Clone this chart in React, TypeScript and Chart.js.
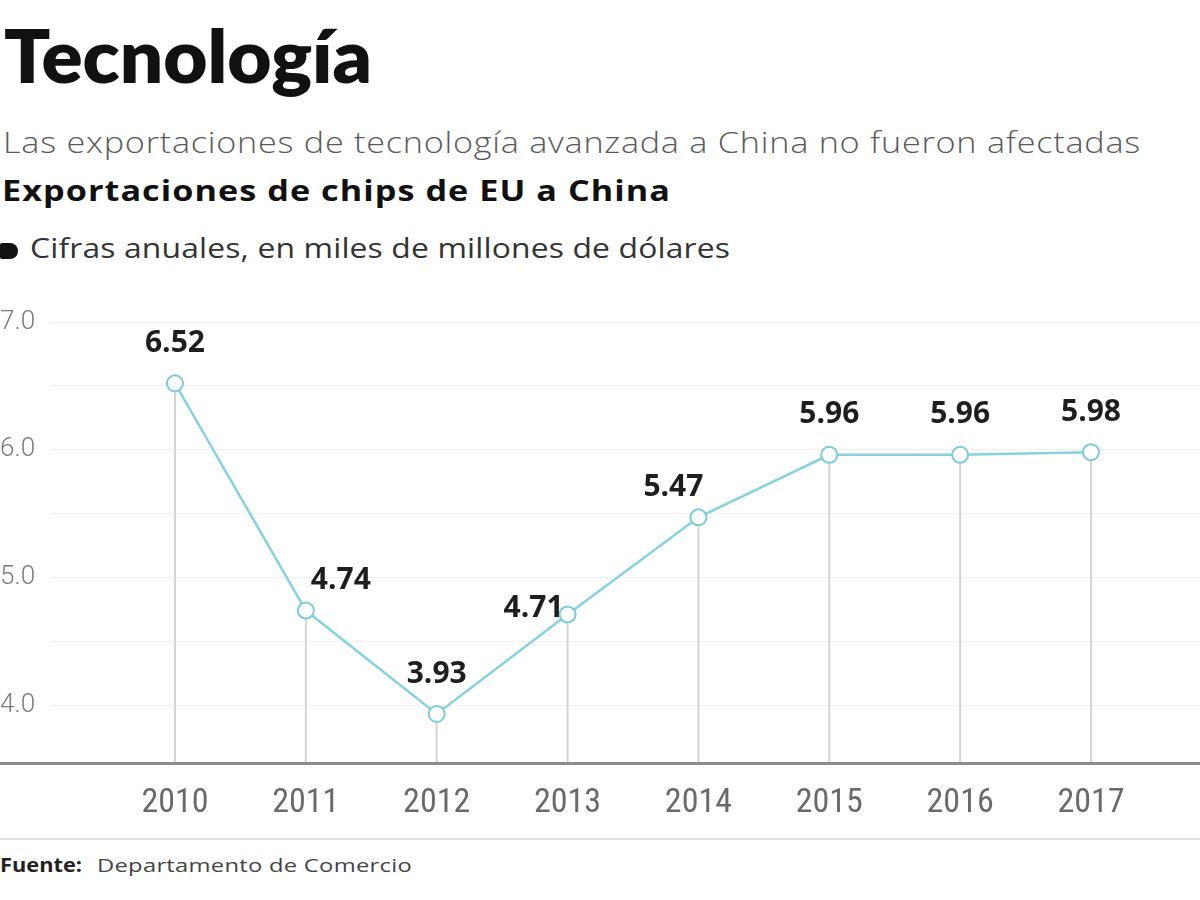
import React, { useEffect, useLayoutEffect, useRef } from "react";
import { Chart, registerables } from "chart.js";

Chart.register(...registerables);

const years = [2010, 2011, 2012, 2013, 2014, 2015, 2016, 2017];
const values = [6.52, 4.74, 3.93, 4.71, 5.47, 5.96, 5.96, 5.98];
const yGridValues = [4, 4.5, 5, 5.5, 6, 6.5, 7];

const labelDx = [0, 35, 0, -34, -25, 0, 0, 0];
const labelDy = [-40, -30, -40, -6, -30, -40, -40, -40];

const LINE_COLOR = "#86d2de";

function Fit({ w, maxScale = 1.18, style, children }: { w: number; maxScale?: number; style: React.CSSProperties; children: React.ReactNode }) {
  const ref = useRef<HTMLDivElement | null>(null);
  useLayoutEffect(() => {
    const el = ref.current;
    if (!el) return;
    const fit = () => {
      el.style.letterSpacing = "0px";
      el.style.transform = "none";
      const nat = el.getBoundingClientRect().width;
      const n = (el.textContent || "").length;
      const ratio = w / nat;
      const sx = Math.min(Math.max(ratio, 0.85), maxScale);
      const ls = (w / sx - nat) / n;
      el.style.letterSpacing = ls + "px";
      el.style.transform = `scaleX(${sx})`;
    };
    fit();
    const fonts = (document as any).fonts;
    if (fonts && fonts.ready) fonts.ready.then(fit);
  }, [w, maxScale]);
  return (
    <div
      ref={ref}
      style={{ position: "absolute", whiteSpace: "nowrap", lineHeight: 1, margin: 0, transformOrigin: "0 50%", ...style }}
    >
      {children}
    </div>
  );
}

export default function App() {
  const canvasRef = useRef<HTMLCanvasElement | null>(null);

  useEffect(() => {
    document.body.style.margin = "0";
    const canvas = canvasRef.current;
    if (!canvas) return;

    const dropLines = {
      id: "dropLines",
      beforeDatasetsDraw(chart: any) {
        const { ctx, chartArea } = chart;
        const meta = chart.getDatasetMeta(0);
        ctx.save();
        ctx.strokeStyle = "#d4d4d4";
        ctx.lineWidth = 2;
        meta.data.forEach((pt: any) => {
          ctx.beginPath();
          ctx.moveTo(pt.x, pt.y);
          ctx.lineTo(pt.x, chartArea.bottom);
          ctx.stroke();
        });
        ctx.strokeStyle = "#8c8c8c";
        ctx.lineWidth = 3;
        ctx.beginPath();
        ctx.moveTo(0, chartArea.bottom + 0.5);
        ctx.lineTo(chart.width, chartArea.bottom + 0.5);
        ctx.stroke();
        ctx.restore();
      },
      afterDatasetsDraw(chart: any) {
        const { ctx } = chart;
        const meta = chart.getDatasetMeta(0);
        ctx.save();
        ctx.fillStyle = "#1e1e1e";
        ctx.font = "bold 30px 'Open Sans', Lato, sans-serif";
        ctx.textAlign = "center";
        ctx.textBaseline = "middle";
        meta.data.forEach((pt: any, i: number) => {
          ctx.fillText(values[i].toFixed(2), pt.x + labelDx[i], pt.y + labelDy[i]);
        });
        ctx.restore();
      },
    };

    const chart = new Chart(canvas, {
      type: "line",
      data: {
        datasets: [
          {
            data: years.map((y, i) => ({ x: y, y: values[i] })),
            borderColor: LINE_COLOR,
            borderWidth: 2.5,
            pointRadius: 8,
            pointBorderWidth: 2,
            pointBackgroundColor: "#ffffff",
            pointBorderColor: "#7ccbd8",
            tension: 0,
            clip: false,
          },
        ],
      },
      options: {
        animation: false,
        responsive: false,
        maintainAspectRatio: false,
        layout: { autoPadding: false, padding: { top: 32, left: 0, right: 0, bottom: 0 } },
        plugins: {
          legend: { display: false },
          tooltip: { enabled: false },
          title: { display: false },
        },
        scales: {
          x: {
            type: "linear",
            min: 2009.045,
            max: 2017.833,
            afterBuildTicks: (s: any) => {
              s.ticks = years.map((v) => ({ value: v }));
            },
            afterFit: (s: any) => {
              s.height = 67;
            },
            grid: { display: false, drawTicks: false },
            border: { display: false },
            ticks: {
              autoSkip: false,
              maxRotation: 0,
              padding: 20,
              color: "#6a6a6a",
              font: { family: "'Liberation Sans Narrow', 'Roboto Condensed', Roboto, sans-serif", size: 34 },
              callback: (v: any) => String(v),
            },
          },
          y: {
            min: 3.546,
            max: 7.0,
            afterBuildTicks: (s: any) => {
              s.ticks = yGridValues.map((v) => ({ value: v }));
            },
            afterFit: (s: any) => {
              s.width = 50;
            },
            grid: { color: "#efefef", lineWidth: 1, drawTicks: false },
            border: { display: false },
            ticks: {
              crossAlign: "far",
              padding: 0,
              color: "#7a7a7a",
              font: { family: "Roboto, 'Open Sans', sans-serif", size: 26, weight: "300" },
              callback: (v: any) => (Number.isInteger(v) ? Number(v).toFixed(1) : ""),
            },
          },
        },
      },
      plugins: [dropLines],
    });

    return () => chart.destroy();
  }, []);

  return (
    <div style={{ position: "relative", width: 1200, height: 900, overflow: "hidden", background: "#fff" }}>
      <Fit w={368} maxScale={1.06} style={{ left: 4, top: 18, fontFamily: "Lato, sans-serif", fontWeight: 800, fontSize: 74, color: "#111" }}>
        Tecnología
      </Fit>
      <Fit w={1138} style={{ left: 3, top: 127, fontFamily: "'Open Sans', Lato, sans-serif", fontWeight: 300, fontSize: 29, color: "#5a5a5a" }}>
        Las exportaciones de tecnología avanzada a China no fueron afectadas
      </Fit>
      <Fit w={669} style={{ left: 2, top: 175, fontFamily: "'Open Sans', Lato, sans-serif", fontWeight: 700, fontSize: 29, color: "#111" }}>
        Exportaciones de chips de EU a China
      </Fit>
      <div style={{ position: "absolute", left: 0, top: 243, width: 18, height: 16, background: "#111", borderRadius: "2px 8px 8px 2px" }} />
      <Fit w={700} style={{ left: 30, top: 234, fontFamily: "'Open Sans', Lato, sans-serif", fontWeight: 400, fontSize: 27, color: "#333" }}>
        Cifras anuales, en miles de millones de dólares
      </Fit>
      <canvas
        ref={canvasRef}
        width={1200}
        height={540}
        style={{ position: "absolute", left: 0, top: 290, width: 1200, height: 540 }}
      />
      <div style={{ position: "absolute", left: 0, top: 838, width: 1200, height: 2, background: "#e2e2e2" }} />
      <Fit w={82} maxScale={1.25} style={{ left: 0, top: 856, fontFamily: "'Open Sans', Lato, sans-serif", fontWeight: 700, fontSize: 19, color: "#222" }}>
        Fuente:
      </Fit>
      <Fit w={315} maxScale={1.25} style={{ left: 97, top: 856, fontFamily: "'Open Sans', Lato, sans-serif", fontWeight: 400, fontSize: 19, color: "#444" }}>
        Departamento de Comercio
      </Fit>
    </div>
  );
}
